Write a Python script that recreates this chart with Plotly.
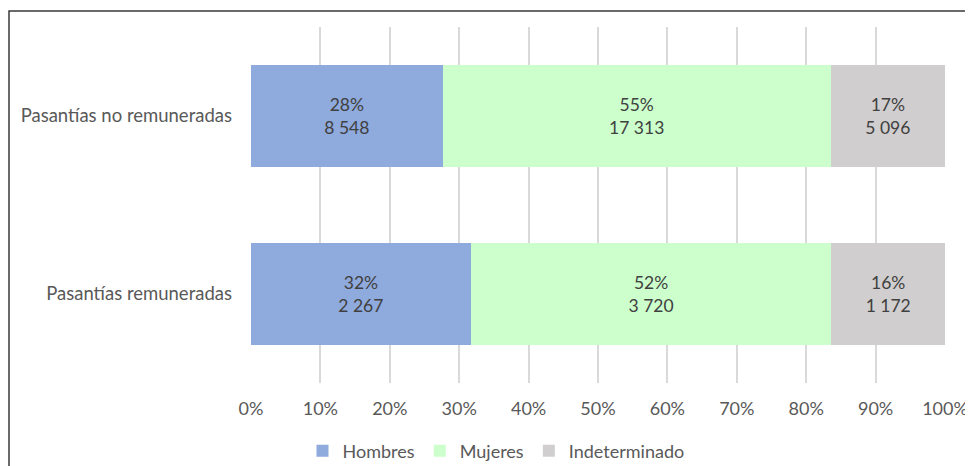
import plotly.graph_objects as go

categories = ["Pasantías remuneradas", "Pasantías no remuneradas"]
series_names = ["Hombres", "Mujeres", "Indeterminado"]
hombres = [2267, 8548]
mujeres = [3720, 17313]
indeterminado = [1172, 5096]
pct_labels = {
    "Hombres": ["32%", "28%"],
    "Mujeres": ["52%", "55%"],
    "Indeterminado": ["16%", "17%"],
}
x_ticks = [0, 10, 20, 30, 40, 50, 60, 70, 80, 90, 100]
colors = {"Hombres": "#8FAADC", "Mujeres": "#CCFFCC", "Indeterminado": "#D0CECE"}

totals = [h + m + i for h, m, i in zip(hombres, mujeres, indeterminado)]
values = {"Hombres": hombres, "Mujeres": mujeres, "Indeterminado": indeterminado}

FONT = "Lato, 'Open Sans', sans-serif"

def fmt(n):
    return f"{n:,}".replace(",", " ")

fig = go.Figure()
for name in series_names:
    vals = values[name]
    shares = [100 * v / t for v, t in zip(vals, totals)]
    texts = [f"{p}<br>{fmt(v)}" for p, v in zip(pct_labels[name], vals)]
    fig.add_trace(go.Bar(
        y=categories, x=shares, name=name, orientation="h",
        marker=dict(color=colors[name], line=dict(width=0)),
        text=texts, textposition="inside", insidetextanchor="middle",
        textfont=dict(family=FONT, size=17.5, color="#404040"),
        hoverinfo="skip",
    ))

# page body has an ~8px offset; figure is sized/placed to compensate
W, H = 965, 458
L, R, T, B = 243, 28, 19, 83
PW, PH = W - L - R, H - T - B

fig.update_layout(
    barmode="stack",
    bargap=0.43,
    width=W, height=H,
    margin=dict(l=L, r=R, t=T, b=B, autoexpand=False),
    paper_bgcolor="white", plot_bgcolor="white",
    font=dict(family=FONT, size=18, color="#595959"),
    uniformtext=dict(mode=False),
    legend=dict(orientation="h", xref="container", yref="container",
                x=488 / W, xanchor="center", y=1 - 443 / H, yanchor="middle",
                font=dict(family=FONT, size=18, color="#595959"),
                itemwidth=30, traceorder="normal"),
    xaxis=dict(range=[0, 100], tickvals=x_ticks, ticktext=[f"{t}%" for t in x_ticks],
               showgrid=True, gridcolor="#D9D9D9", gridwidth=2, zeroline=False,
               showline=False, ticks="", ticklabelstandoff=13, automargin=False,
               tickfont=dict(family=FONT, size=18, color="#595959")),
    yaxis=dict(range=[-0.5, 1.5], showgrid=False, zeroline=False, showline=False,
               ticks="", ticklabelstandoff=18, automargin=False,
               tickfont=dict(family=FONT, size=18.5, color="#595959")),
    showlegend=True,
)

fig.add_shape(type="rect", xref="paper", yref="paper",
              x0=(1 - L) / PW, x1=(W + 20 - L) / PW, y0=-1, y1=(PH + T - 3) / PH,
              line=dict(color="#3A3A3A", width=1.5), fillcolor="rgba(0,0,0,0)", layer="above")

fig.write_html("out.html")
